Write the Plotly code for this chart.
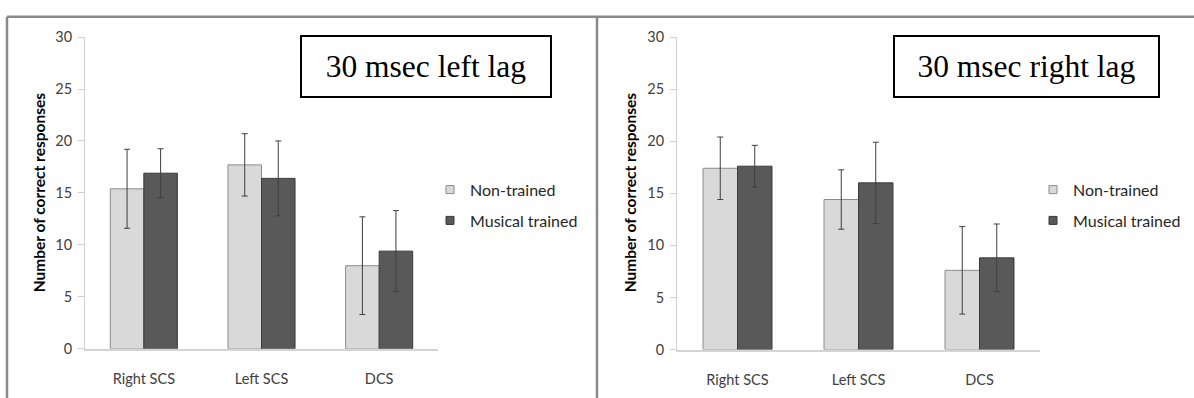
import plotly.graph_objects as go

categories = ["Right SCS", "Left SCS", "DCS"]
series_names = ["Non-trained", "Musical trained"]

left_nontrained = [15.4, 17.7, 8.0]
left_nontrained_err = [3.8, 3.0, 4.7]
left_musical = [16.9, 16.4, 9.4]
left_musical_err = [2.35, 3.6, 3.9]

right_nontrained = [17.4, 14.4, 7.6]
right_nontrained_err = [3.0, 2.85, 4.2]
right_musical = [17.6, 16.0, 8.8]
right_musical_err = [2.0, 3.9, 3.25]

panel_titles = ["30 msec left lag", "30 msec right lag"]
y_title = "Number of correct responses"
y_ticks = [0, 5, 10, 15, 20, 25, 30]

W, H = 1194, 398
def px(x):
    return x / W
def py(y):
    return 1 - y / H

light_fill, light_line = "#d9d9d9", "#8c8c8c"
dark_fill, dark_line = "#595959", "#3a3a3a"
err_color = "#3f3f3f"
tick_font = dict(family="Lato", size=14.5, color="#404040")

fig = go.Figure()

def add_bars(xa, ya, vals, errs, name, fill, line, legend, group):
    fig.add_trace(go.Bar(
        x=categories, y=vals, name=name, xaxis=xa, yaxis=ya,
        marker=dict(color=fill, line=dict(color=line, width=1)),
        error_y=dict(type="data", array=errs, color=err_color, thickness=1, width=3),
        showlegend=False, legendgroup=group,
    ))
    # legend entry with a small square key, like the original
    fig.add_trace(go.Scatter(
        x=[None], y=[None], mode="markers", name=name, xaxis=xa, yaxis=ya,
        marker=dict(symbol="square", size=8, color=fill, line=dict(color=line, width=1)),
        legend=legend, legendgroup=group, showlegend=True,
    ))

add_bars("x", "y", left_nontrained, left_nontrained_err, series_names[0], light_fill, light_line, "legend", "a")
add_bars("x", "y", left_musical, left_musical_err, series_names[1], dark_fill, dark_line, "legend", "b")
add_bars("x2", "y2", right_nontrained, right_nontrained_err, series_names[0], light_fill, light_line, "legend2", "a2")
add_bars("x2", "y2", right_musical, right_musical_err, series_names[1], dark_fill, dark_line, "legend2", "b2")

xcommon = dict(showline=True, linecolor="#d4d4d4", linewidth=1.5, ticks="", showgrid=False,
               zeroline=False, tickfont=tick_font, ticklabelstandoff=16, fixedrange=True)
ycommon = dict(range=[0, 30], tickvals=y_ticks, showline=True, linecolor="#d0d0d0", linewidth=1,
               ticks="outside", ticklen=6, tickcolor="#d0d0d0", showgrid=False, zeroline=False,
               tickfont=tick_font, ticklabelstandoff=3, fixedrange=True)

legend_common = dict(font=dict(family="Lato", size=16, color="#262626"), bgcolor="rgba(0,0,0,0)",
                     xanchor="left", yanchor="top", traceorder="grouped", tracegroupgap=7,
                     borderwidth=0)

fig.update_layout(
    width=W, height=H, margin=dict(l=0, r=0, t=0, b=0),
    paper_bgcolor="white", plot_bgcolor="white",
    barmode="group", bargap=0.43, bargroupgap=0,
    xaxis=dict(domain=[px(85), px(438)], anchor="y", **xcommon),
    yaxis=dict(domain=[py(355), py(29.3)], anchor="x", **ycommon),
    xaxis2=dict(domain=[px(677), px(1040)], anchor="y2", **xcommon),
    yaxis2=dict(domain=[py(355.7), py(29.3)], anchor="x2", **ycommon),
    legend=dict(x=px(430), y=py(171), **legend_common),
    legend2=dict(x=px(1033), y=py(171), **legend_common),
    showlegend=True,
)

# panel frame lines
frame = dict(type="line", xref="paper", yref="paper", line=dict(color="#8a8a8a", width=2.5), layer="above")
fig.add_shape(x0=px(7), x1=1.01, y0=py(8), y1=py(8), **frame)
fig.add_shape(x0=px(7), x1=px(7), y0=py(8), y1=-0.03, **frame)
fig.add_shape(x0=px(597), x1=px(597), y0=py(8), y1=-0.03, **frame)

# y-axis titles
for xc in (39, 630):
    fig.add_annotation(x=px(xc), y=py(191.5), xref="paper", yref="paper", text=f"<b>{y_title}</b>",
                       textangle=-90, showarrow=False, xanchor="center", yanchor="middle",
                       font=dict(family="Lato", size=15.5, color="black"))

# boxed panel titles
for (x0, w), t in zip([(300, 248), (893, 263)], panel_titles):
    fig.add_annotation(x=px(x0), y=py(27), xref="paper", yref="paper", text=t, showarrow=False,
                       xanchor="left", yanchor="top", width=w, height=59, align="center", valign="middle",
                       bordercolor="black", borderwidth=2, borderpad=0, bgcolor="white",
                       font=dict(family="Liberation Serif", size=31.5, color="black"))

fig.write_html("out.html")
